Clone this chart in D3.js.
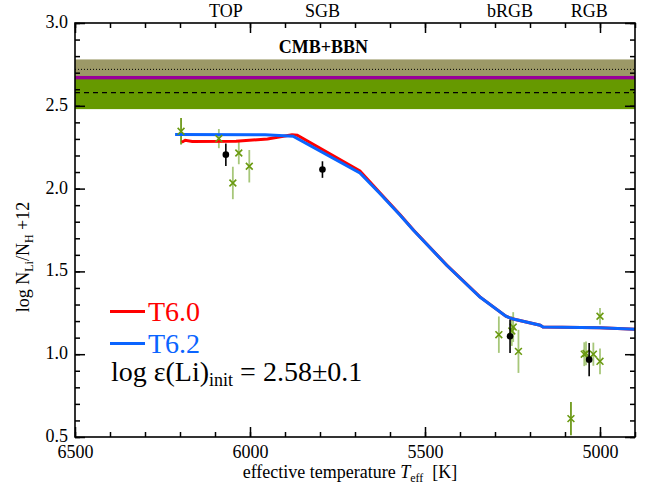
<!DOCTYPE html>
<html>
<head>
<meta charset="utf-8">
<script src="https://cdn.jsdelivr.net/npm/d3@7"></script>
<style>
  body { margin: 0; background: #fff; }
  text { font-family: "Liberation Serif", "Times New Roman", serif; }
</style>
</head>
<body>
<div id="chart"></div>
<script>
var svgWidth = 648;
var svgHeight = 488;

var margin = { top: 23, right: 13, bottom: 51, left: 75 };
var width = svgWidth - margin.left - margin.right;
var height = svgHeight - margin.top - margin.bottom;

// model curves (Teff, log eps Li)
var t60Teff = [6195, 6185, 6165, 6040, 5950, 5880, 5865, 5686, 5629, 5571, 5533, 5438, 5343, 5269, 5251, 5171, 5163, 5000, 4900];
var t60Li   = [2.280, 2.292, 2.285, 2.286, 2.300, 2.325, 2.322, 2.106, 1.975, 1.842, 1.750, 1.538, 1.346, 1.230, 1.214, 1.175, 1.164, 1.159, 1.150];
var t62Teff = [6214, 5957, 5877, 5686, 5629, 5571, 5533, 5438, 5343, 5269, 5251, 5171, 5163, 5000, 4900];
var t62Li   = [2.326, 2.325, 2.316, 2.094, 1.970, 1.839, 1.748, 1.537, 1.345, 1.230, 1.214, 1.175, 1.164, 1.159, 1.150];

// cluster group means (black)
var groupTeff = [6069, 5793, 5257, 5031];
var groupLi   = [2.205, 2.115, 1.108, 0.967];
var groupErr  = [0.068, 0.05, 0.1, 0.1];
var groupNames = ["TOP", "SGB", "bRGB", "RGB"];

// individual stars (green crosses)
var starTeff = [6197, 6089, 6032, 6002, 6049, 5289, 5248, 5252, 5233, 5000, 5045, 5040, 5019, 5000, 5083];
var starLi   = [2.346, 2.302, 2.215, 2.135, 2.034, 1.118, 1.164, 1.140, 1.017, 1.229, 1.000, 1.005, 1.000, 0.957, 0.611];
var starErr  = [0.08, 0.058, 0.068, 0.098, 0.098, 0.11, 0.09, 0.09, 0.13, 0.05, 0.072, 0.072, 0.07, 0.078, 0.1];
var starSource = ["b", "a", "a", "a", "a", "a", "a", "a", "a", "a", "a", "a", "a", "a", "b"];

// horizontal bands
var cmbValue = 2.72, cmbErr = 0.06;
var initValue = 2.58, initErr = 0.1;

var xTicks = [6500, 6000, 5500, 5000];
var yTicks = [0.5, 1.0, 1.5, 2.0, 2.5, 3.0];

var svg = d3.select("#chart")
    .append("svg")
    .attr("width", svgWidth)
    .attr("height", svgHeight);

var chartGroup = svg.append("g")
    .attr("transform", `translate(${margin.left}, ${margin.top})`);

svg.append("defs").append("clipPath").attr("id", "clip")
    .append("rect").attr("width", width).attr("height", height);

var xScale = d3.scaleLinear().domain([6500, 4900]).range([0, width]);
var yScale = d3.scaleLinear().domain([0.5, 3.0]).range([height, 0]);

var plot = chartGroup.append("g").attr("clip-path", "url(#clip)");

// bands: CMB+BBN (tan), initial (green), overlap (purple)
plot.append("rect")
    .attr("x", 0).attr("width", width)
    .attr("y", yScale(cmbValue + cmbErr))
    .attr("height", yScale(cmbValue - cmbErr) - yScale(cmbValue + cmbErr))
    .attr("fill", "#9c9967");
plot.append("rect")
    .attr("x", 0).attr("width", width)
    .attr("y", yScale(initValue + initErr))
    .attr("height", yScale(initValue - initErr) - yScale(initValue + initErr))
    .attr("fill", "#669900");
plot.append("rect")
    .attr("x", 0).attr("width", width)
    .attr("y", yScale(initValue + initErr))
    .attr("height", yScale(cmbValue - cmbErr) - yScale(initValue + initErr))
    .attr("fill", "#990099");
plot.append("line")
    .attr("x1", 0).attr("x2", width)
    .attr("y1", yScale(cmbValue)).attr("y2", yScale(cmbValue))
    .attr("stroke", "#000").attr("stroke-width", 1)
    .attr("stroke-dasharray", "1,2");
plot.append("line")
    .attr("x1", 0).attr("x2", width)
    .attr("y1", yScale(initValue)).attr("y2", yScale(initValue))
    .attr("stroke", "#000").attr("stroke-width", 1.2)
    .attr("stroke-dasharray", "5,4");

chartGroup.append("text")
    .attr("x", xScale(5790))
    .attr("y", yScale(2.82))
    .attr("text-anchor", "middle")
    .attr("font-size", "18px")
    .attr("font-weight", "bold")
    .text("CMB+BBN");

// star error bars and crosses
var stars = starTeff.map((t, i) => ({ t: t, li: starLi[i], e: starErr[i], s: starSource[i] }));
plot.selectAll(".starbar")
    .data(stars)
    .enter()
    .append("line")
    .attr("x1", d => xScale(d.t)).attr("x2", d => xScale(d.t))
    .attr("y1", d => yScale(d.li + d.e)).attr("y2", d => yScale(d.li - d.e))
    .attr("stroke", d => d.s == "b" ? "#6f9a1c" : "#a7c77a")
    .attr("stroke-width", 1.8);

// model lines
var line = d3.line().x(d => xScale(d[0])).y(d => yScale(d[1]));
plot.append("path")
    .datum(t60Teff.map((t, i) => [t, t60Li[i]]))
    .attr("d", line)
    .attr("fill", "none").attr("stroke", "#ff0000").attr("stroke-width", 3);
plot.append("path")
    .datum(t62Teff.map((t, i) => [t, t62Li[i]]))
    .attr("d", line)
    .attr("fill", "none").attr("stroke", "#0a64ff").attr("stroke-width", 3);

plot.selectAll(".star")
    .data(stars)
    .enter()
    .append("path")
    .attr("transform", d => `translate(${xScale(d.t)},${yScale(d.li)})`)
    .attr("d", d3.symbol(d3.symbolX, 32))
    .attr("fill", "none")
    .attr("stroke", "#6a9a10")
    .attr("stroke-width", 1.6);

// group means
var groups = groupTeff.map((t, i) => ({ t: t, li: groupLi[i], e: groupErr[i], name: groupNames[i] }));
plot.selectAll(".groupbar")
    .data(groups)
    .enter()
    .append("line")
    .attr("x1", d => xScale(d.t)).attr("x2", d => xScale(d.t))
    .attr("y1", d => yScale(d.li + d.e)).attr("y2", d => yScale(d.li - d.e))
    .attr("stroke", "#000").attr("stroke-width", 1.6);
plot.selectAll(".group")
    .data(groups)
    .enter()
    .append("circle")
    .attr("cx", d => xScale(d.t))
    .attr("cy", d => yScale(d.li))
    .attr("r", 3.3)
    .attr("fill", "#000");

// axes with inward ticks on all sides
function drawAxis(axis, transform) {
    var g = chartGroup.append("g").attr("transform", transform).call(axis);
    g.attr("font-family", null);
    g.select(".domain").remove();
    g.selectAll("line").attr("stroke", "#000").attr("stroke-width", 1.5);
    return g;
}
var xMinor = d3.range(6500, 4899, -100);
var yMinor = d3.range(0.5, 3.001, 0.1);

var xb = drawAxis(d3.axisTop(xScale).tickValues(xTicks).tickSize(10).tickFormat(d3.format("d")), `translate(0,${height})`);
xb.selectAll("text")
    .attr("y", 21).attr("dy", 0)
    .attr("font-size", "18px")
    .attr("fill", "#000");
drawAxis(d3.axisTop(xScale).tickValues(xMinor).tickSize(5).tickFormat(""), `translate(0,${height})`);
drawAxis(d3.axisBottom(xScale).tickValues(xTicks).tickSize(10).tickFormat(""), "translate(0,0)");
drawAxis(d3.axisBottom(xScale).tickValues(xMinor).tickSize(5).tickFormat(""), "translate(0,0)");

var yl = drawAxis(d3.axisRight(yScale).tickValues(yTicks).tickSize(10).tickFormat(d3.format(".1f")), "translate(0,0)");
yl.selectAll("text")
    .attr("x", -7).attr("dy", "0.25em").attr("text-anchor", "end")
    .attr("font-size", "18px")
    .attr("fill", "#000");
drawAxis(d3.axisRight(yScale).tickValues(yMinor).tickSize(5).tickFormat(""), "translate(0,0)");
drawAxis(d3.axisLeft(yScale).tickValues(yTicks).tickSize(10).tickFormat(""), `translate(${width},0)`);
drawAxis(d3.axisLeft(yScale).tickValues(yMinor).tickSize(5).tickFormat(""), `translate(${width},0)`);

chartGroup.append("rect")
    .attr("width", width).attr("height", height)
    .attr("fill", "none").attr("stroke", "#000").attr("stroke-width", 1.6);

// evolutionary stage labels on top
chartGroup.selectAll(".stage")
    .data(groups)
    .enter()
    .append("text")
    .attr("x", d => xScale(d.t))
    .attr("y", -6)
    .attr("text-anchor", "middle")
    .attr("font-size", "18px")
    .text(d => d.name);

// axis titles
var xt = chartGroup.append("text")
    .attr("x", width / 2 - 5)
    .attr("y", height + 41)
    .attr("text-anchor", "middle")
    .attr("font-size", "18px");
xt.append("tspan").text("effective temperature ");
xt.append("tspan").attr("font-style", "italic").text("T");
xt.append("tspan").attr("font-size", "12px").attr("dy", 4).text("eff");
xt.append("tspan").attr("dy", -4).text("\u2002[K]");

var yt = svg.append("text")
    .attr("transform", "translate(29,257) rotate(-90)")
    .attr("text-anchor", "middle")
    .attr("font-size", "18px");
yt.append("tspan").text("log N");
yt.append("tspan").attr("font-size", "12px").attr("dy", 4).text("Li");
yt.append("tspan").attr("dy", -4).text("/N");
yt.append("tspan").attr("font-size", "12px").attr("dy", 4).text("H");
yt.append("tspan").attr("dy", -4).text(" +12");

// legend
var legend = [{ name: "T6.0", color: "#ff0000" }, { name: "T6.2", color: "#0a64ff" }];
var lg = svg.append("g");
legend.forEach((d, i) => {
    lg.append("line")
        .attr("x1", 110).attr("x2", 145)
        .attr("y1", 311.5 + i * 32).attr("y2", 311.5 + i * 32)
        .attr("stroke", d.color).attr("stroke-width", 3);
    lg.append("text")
        .attr("x", 148).attr("y", 321 + i * 32)
        .attr("font-size", "28px")
        .attr("fill", d.color)
        .text(d.name);
});
var eq = lg.append("text")
    .attr("x", 111).attr("y", 381)
    .attr("font-size", "28px");
eq.append("tspan").text("log \u03b5(Li)");
eq.append("tspan").attr("font-size", "18px").attr("dy", 5).text("init");
eq.append("tspan").attr("dy", -5).text(" = 2.58\u00b10.1");
</script>
</body>
</html>
